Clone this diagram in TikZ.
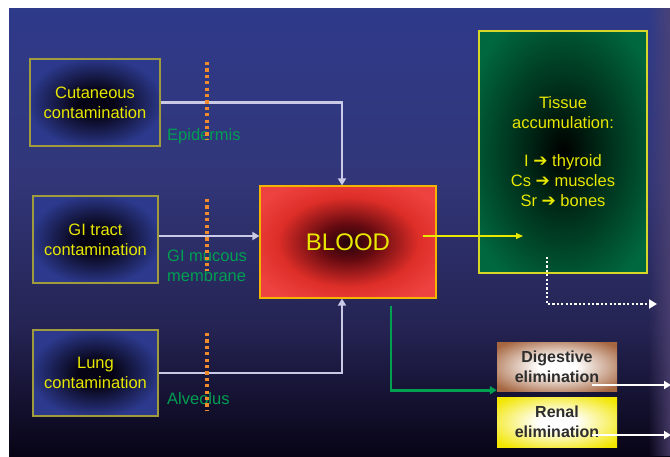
\documentclass[tikz,border=0pt]{standalone}
\usepackage{fontspec}
\setmainfont{Liberation Sans}
\newfontfamily\djv{DejaVu Sans}
\usetikzlibrary{arrows.meta,fadings}
\definecolor{bgA}{RGB}{46,58,138}
\definecolor{bgB}{RGB}{50,54,120}
\definecolor{bgC}{RGB}{36,35,82}
\definecolor{bgD}{RGB}{8,4,22}
\definecolor{edgec}{RGB}{80,68,115}
\definecolor{bxblue}{RGB}{44,57,140}
\definecolor{bxdark}{RGB}{6,3,20}
\definecolor{bxline}{RGB}{160,155,60}
\definecolor{bred}{RGB}{238,66,64}
\definecolor{bred2}{RGB}{222,46,40}
\definecolor{bredm}{RGB}{100,10,16}
\definecolor{bredd}{RGB}{35,3,8}
\definecolor{bline}{RGB}{245,180,0}
\definecolor{tgreen}{RGB}{0,104,62}
\definecolor{tgreend}{RGB}{0,36,20}
\definecolor{tline}{RGB}{215,215,40}
\definecolor{dbrown}{RGB}{166,102,64}
\definecolor{ryellow}{RGB}{242,230,0}
\definecolor{txty}{RGB}{232,232,0}
\definecolor{txtd}{RGB}{45,45,45}
\definecolor{lblg}{RGB}{0,158,82}
\definecolor{lav}{RGB}{202,202,230}
\definecolor{orng}{RGB}{240,140,45}
\definecolor{garrc}{RGB}{0,160,80}
\pgfdeclareradialshading{shblue}{\pgfpoint{0bp}{0bp}}{color(0bp)=(bxdark); color(7bp)=(bxdark); color(26bp)=(bxblue); color(50bp)=(bxblue)}
\pgfdeclareradialshading{shblood}{\pgfpoint{0bp}{0bp}}{color(0bp)=(bredd); color(8bp)=(bredm); color(20bp)=(bred2); color(30bp)=(bred); color(50bp)=(bred)}
\pgfdeclareradialshading{shtissue}{\pgfpoint{0bp}{0bp}}{color(0bp)=(black); color(10bp)=(tgreend); color(31bp)=(tgreen); color(50bp)=(tgreen)}
\pgfdeclareradialshading{shdig}{\pgfpoint{0bp}{0bp}}{color(0bp)=(white); color(8bp)=(white); color(32bp)=(dbrown); color(50bp)=(dbrown)}
\pgfdeclareradialshading{shren}{\pgfpoint{0bp}{0bp}}{color(0bp)=(white); color(8bp)=(white); color(32bp)=(ryellow); color(50bp)=(ryellow)}
\tikzset{
  srcbox/.style={shade, shading=shblue, draw=bxline, line width=1.2pt, align=center,
    text=txty, font=\fontsize{16.5}{20}\selectfont, inner sep=0pt},
  bloodbox/.style={shade, shading=shblood, draw=bline, line width=1.2pt, text=txty,
    font=\fontsize{24}{28}\selectfont, inner sep=0pt},
  tissuebox/.style={shade, shading=shtissue, draw=tline, line width=1.2pt, align=center,
    text=txty, font=\fontsize{16.5}{20}\selectfont, inner sep=0pt},
  elimbox/.style={shade, align=center, text=txtd, font=\bfseries\fontsize{16}{20}\selectfont, inner sep=0pt},
  lbl/.style={text=lblg, font=\fontsize{16.5}{20}\selectfont, align=left, inner sep=0pt, anchor=west},
  conn/.style={draw=lav, line width=2.8pt, -{Triangle[length=7pt,width=8pt]}},
  yarr/.style={draw=txty, line width=1.3pt, -{Triangle[length=7pt,width=6pt]}},
  garr/.style={draw=garrc, line width=2.8pt, -{Triangle[length=7pt,width=8pt]}},
  wdot/.style={draw=white, line width=2.6pt, dash pattern=on 2.2pt off 2.2pt, -{Triangle[length=8pt,width=9pt]}},
  warr/.style={draw=white, line width=2.6pt, -{Triangle[length=7pt,width=8pt]}},
  odot/.style={draw=orng, line width=3.2pt, dash pattern=on 3.2pt off 3.2pt},
  arw/.style={}
}
\newcommand{\harr}{{\djv\bfseries\fontsize{17}{20}\selectfont ➔}}
\begin{document}
\begin{tikzpicture}[x=1pt,y=-1pt]
\useasboundingbox (0,0) rectangle (670,456);
\fill[white] (0,0) rectangle (670,456);
% background
\shade[top color=bgA, bottom color=bgB] (9,8) rectangle (670,180.5);
\shade[top color=bgB, bottom color=bgC] (9,180) rectangle (670,330.5);
\shade[top color=bgC, bottom color=bgD] (9,330) rectangle (670,456);
\fill[edgec, path fading=west, fill opacity=0.8] (648,8) rectangle (670,456);

% nodes
\node[srcbox, minimum width=130pt, minimum height=87pt] (cut) at (95,102.5) {Cutaneous\\contamination};
\node[srcbox, minimum width=125pt, minimum height=87pt] (gi) at (95.5,239.5) {GI tract\\contamination};
\node[srcbox, minimum width=125pt, minimum height=86pt] (lung) at (95.5,373) {Lung\\contamination};
\node[bloodbox, minimum width=176pt, minimum height=112pt] (blood) at (348,242) {BLOOD};
\node[tissuebox, minimum width=168pt, minimum height=242pt] (tis) at (563,152)
  {Tissue\\accumulation:\\[18pt]I \harr{} thyroid\\Cs \harr{} muscles\\Sr \harr{} bones};
\node[elimbox, shading=shdig, minimum width=120pt, minimum height=49pt] (dig) at (557,366.5) {Digestive\\elimination};
\node[elimbox, shading=shren, minimum width=120pt, minimum height=50pt] (ren) at (557,422) {Renal\\elimination};

% free ends
\coordinate (yend) at (523,236);
\coordinate (dotend) at (657,304);
\coordinate (dend) at (671,385);
\coordinate (rend) at (671,435);

% connectors
\draw[conn] (cut.east) -| ([xshift=-6pt]blood.north);
\draw[conn] ([yshift=3.5pt]gi.east) -- ([yshift=3.5pt]gi.east -| blood.west);
\draw[conn] (lung.east) -| ([xshift=-6pt]blood.south);
\draw[yarr] ([xshift=-14pt,yshift=6pt]blood.east) -- (yend);
\draw[garr] ([xshift=43pt,yshift=-7pt]blood.south) |- ([yshift=1pt]dig.south west);
\draw[wdot] ([xshift=-16pt,yshift=17pt]tis.south) |- (dotend);
\draw[warr] ([xshift=35pt,yshift=-18.5pt]dig.center) -- (dend);
\draw[warr] ([xshift=35pt,yshift=-13pt]ren.center) -- (rend);

% membrane labels
\node[lbl] (epi) at (167,136) {Epidermis};
\node[lbl] (muc) at (167,266) {GI mucous\\membrane};
\node[lbl] (alv) at (167,399) {Alveolus};

% membrane dotted lines
\draw[odot] (207,62) -- (207,140);
\draw[odot] (207,199) -- (207,271);
\draw[odot] (207,333) -- (207,411);
\end{tikzpicture}
\end{document}
